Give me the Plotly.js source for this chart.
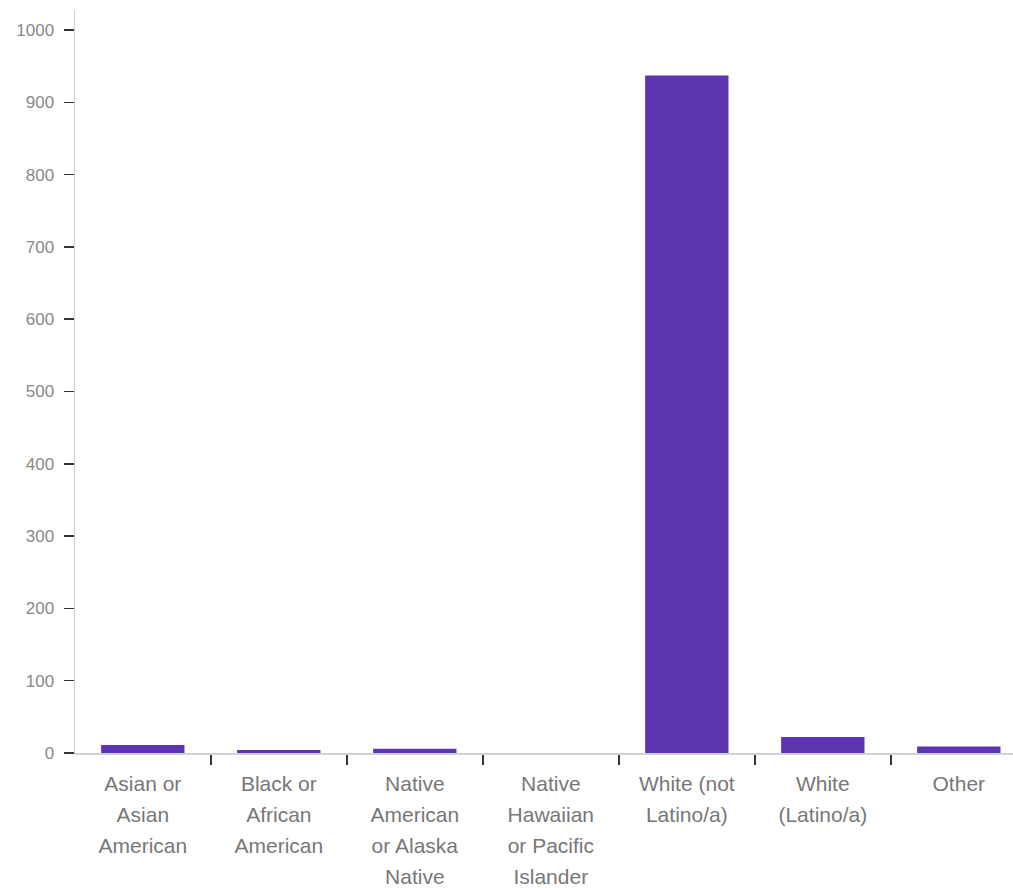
<!DOCTYPE html>
<html>
<head>
<meta charset="utf-8">
<script src="https://cdn.plot.ly/plotly-3.0.1.min.js"></script>
<style>
html, body { margin: 0; padding: 0; background: #fff; }
#chart { width: 1013px; height: 888px; }
</style>
</head>
<body>
<div id="chart"></div>
<script>
var categories = [
  "Asian or<br>Asian<br>American",
  "Black or<br>African<br>American",
  "Native<br>American<br>or Alaska<br>Native",
  "Native<br>Hawaiian<br>or Pacific<br>Islander",
  "White (not<br>Latino/a)",
  "White<br>(Latino/a)",
  "Other"
];
var counts = [11, 4, 6, 0, 937, 22, 9];
var yTicks = [0, 100, 200, 300, 400, 500, 600, 700, 800, 900, 1000];

var trace = {
  type: "bar",
  x: categories,
  y: counts,
  marker: { color: "#5E35B1", line: { width: 0 } },
  hoverinfo: "x+y"
};

var layout = {
  width: 1013,
  height: 888,
  margin: { l: 75, r: 0, t: 10, b: 135, pad: 0 },
  paper_bgcolor: "#ffffff",
  plot_bgcolor: "#ffffff",
  bargap: 0.387,
  showlegend: false,
  font: { family: "Liberation Sans, Arial, sans-serif", color: "#777" },
  xaxis: {
    type: "category",
    range: [-0.4985, 6.3985],
    showline: true,
    linecolor: "#d0d0d0",
    linewidth: 1.5,
    showgrid: false,
    zeroline: false,
    ticks: "outside",
    tickson: "boundaries",
    ticklen: 10,
    tickwidth: 1.5,
    tickcolor: "#333",
    tickfont: { family: "Liberation Sans, Arial, sans-serif", size: 21, color: "#777" },
    ticklabelstandoff: 11,
    fixedrange: true
  },
  yaxis: {
    range: [0, 1027.7],
    tickvals: yTicks,
    showline: true,
    linecolor: "#d0d0d0",
    linewidth: 1.5,
    showgrid: false,
    zeroline: false,
    ticks: "outside",
    ticklen: 10,
    tickwidth: 1.5,
    tickcolor: "#333",
    tickfont: { family: "Liberation Sans, Arial, sans-serif", size: 17, color: "#888" },
    ticklabelstandoff: 6,
    fixedrange: true
  }
};

function spreadLines() {
  var texts = document.querySelectorAll("#chart .xtick text");
  texts.forEach(function (t) {
    var lines = t.querySelectorAll("tspan.line");
    lines.forEach(function (ln, i) {
      ln.setAttribute("dy", (i * 1.48) + "em");
    });
  });
}

Plotly.newPlot("chart", [trace], layout, { displayModeBar: false, staticPlot: true }).then(function (gd) {
  spreadLines();
  gd.on("plotly_afterplot", spreadLines);
});
</script>
</body>
</html>
